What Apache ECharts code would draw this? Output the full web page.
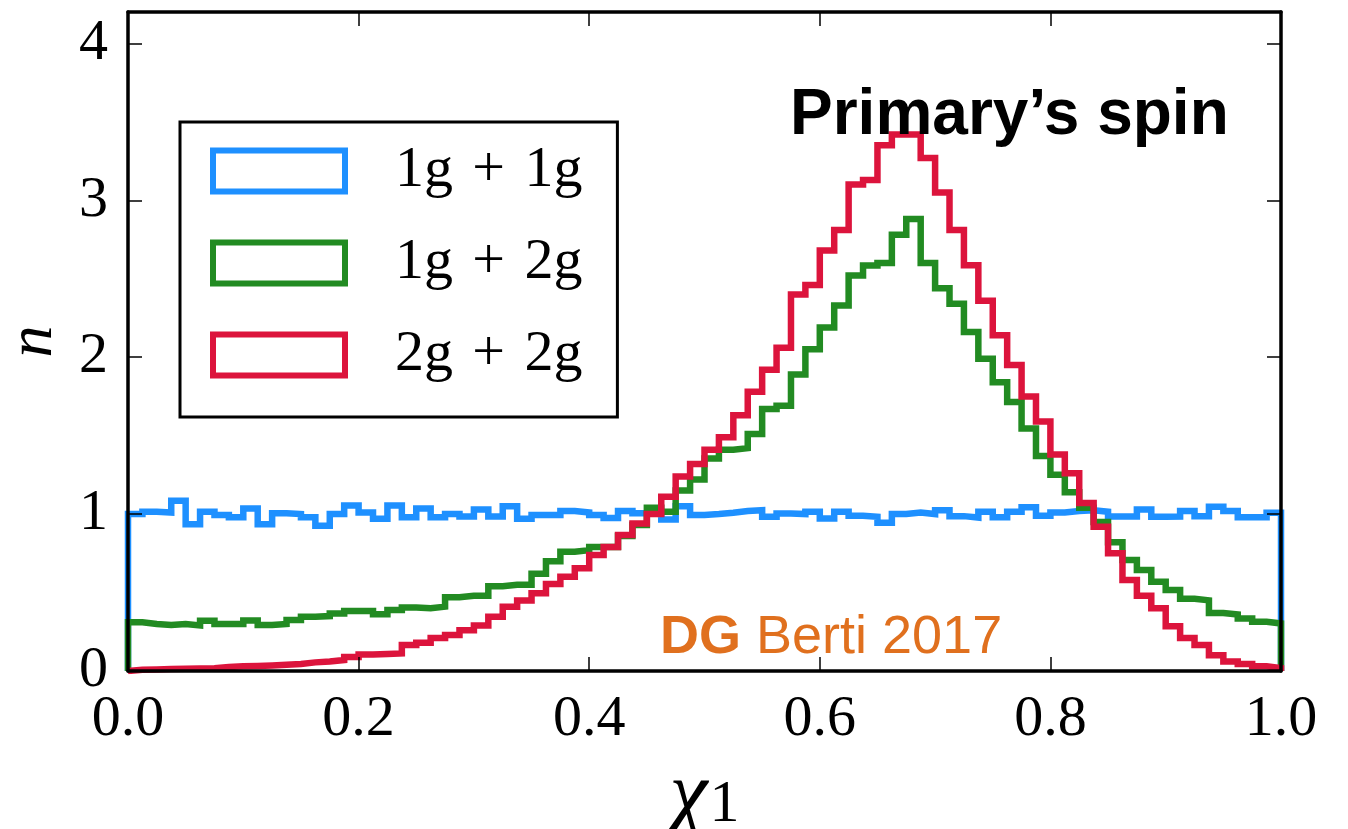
<!DOCTYPE html>
<html><head><meta charset="utf-8">
<script src="https://cdn.jsdelivr.net/npm/echarts@6/dist/echarts.min.js"></script>
<style>html,body{margin:0;padding:0;background:#fff}#c{width:1348px;height:829px}</style>
</head><body><div id="c"></div>
<script>
const seriesNames = ['1g\u2004+\u20041g', '1g\u2004+\u20042g', '2g\u2004+\u20042g'];
const xTickLabels = ['0.0', '0.2', '0.4', '0.6', '0.8', '1.0'];
const yTickLabels = ['0', '1', '2', '3', '4'];
const titleText = 'Primary\u2019s spin';
const creditBold = 'DG';
const creditRest = ' Berti 2017';

// histogram heights, 80 equal bins on [0, 1]
const blue = [1.00,1.015,1.01,1.085,0.935,1.015,0.995,0.98,1.035,0.935,
  1.005,1.0,0.98,0.925,1.0,1.055,1.01,0.97,1.055,0.98,
  1.035,0.98,1.0,0.985,1.03,0.985,1.05,0.97,0.995,0.995,
  1.02,1.01,0.995,0.975,1.02,1.005,1.0,0.965,1.05,0.995,
  1.0,1.008,1.02,1.025,0.983,1.004,1.0,1.015,0.972,1.015,
  0.99,0.983,0.945,1.0,1.01,1.0,1.025,0.987,0.978,1.015,
  0.98,1.015,1.043,0.99,1.01,1.02,1.025,1.015,0.985,0.985,
  1.03,0.983,0.985,1.02,0.987,1.047,1.02,0.98,0.98,1.008];
const green = [0.31,0.30,0.293,0.30,0.29,0.32,0.30,0.30,0.322,0.293,
  0.30,0.325,0.345,0.35,0.367,0.382,0.382,0.361,0.388,0.405,
  0.40,0.41,0.47,0.48,0.48,0.54,0.55,0.55,0.62,0.70,
  0.76,0.77,0.79,0.79,0.86,0.93,1.04,1.015,1.15,1.22,
  1.355,1.41,1.42,1.51,1.67,1.69,1.89,2.05,2.19,2.33,
  2.52,2.585,2.60,2.78,2.88,2.60,2.44,2.34,2.16,1.99,
  1.84,1.715,1.545,1.37,1.25,1.14,1.04,0.95,0.82,0.707,
  0.643,0.569,0.516,0.46,0.45,0.37,0.36,0.335,0.314,0.303];
const red = [0.008,0.01,0.012,0.014,0.016,0.018,0.025,0.03,0.032,0.035,
  0.04,0.045,0.055,0.06,0.07,0.09,0.105,0.108,0.112,0.165,
  0.18,0.21,0.23,0.26,0.29,0.345,0.41,0.45,0.495,0.555,
  0.60,0.655,0.74,0.79,0.866,0.94,1.0,1.11,1.24,1.32,
  1.41,1.49,1.63,1.78,1.92,2.06,2.40,2.46,2.68,2.81,
  3.10,3.13,3.35,3.42,3.42,3.27,3.05,2.81,2.586,2.36,
  2.14,1.95,1.75,1.59,1.38,1.26,1.07,0.92,0.75,0.58,
  0.48,0.40,0.285,0.21,0.165,0.10,0.06,0.045,0.03,0.018];

const colors = ['#1E90FF', '#228B22', '#DC143C'];
const values = [blue, green, red];

function stepPoints(vals) {
  const n = vals.length;
  const pts = [[0, 0]];
  for (let i = 0; i < n; i++) pts.push([i / n, vals[i]]);
  pts.push([1, vals[n - 1]]);
  pts.push([1, 0]);
  return pts;
}

const serif = 'Liberation Serif';
const tickStyle = { inside: true, length: 14, lineStyle: { color: '#000', width: 1.5 } };
const axisLine = { show: true, onZero: false, lineStyle: { color: '#000', width: 3.5 } };

const chart = echarts.init(document.getElementById('c'), null, { renderer: 'canvas' });
chart.setOption({
  animation: false,
  backgroundColor: '#fff',
  grid: { left: 128, right: 67, top: 12, bottom: 158, show: false, containLabel: false, outerBoundsMode: 'none' },
  xAxis: [{
    type: 'value', min: 0, max: 1, interval: 0.2, position: 'bottom', z: 5,
    axisLine: axisLine, axisTick: tickStyle, splitLine: { show: false },
    axisLabel: { margin: 20, fontFamily: serif, fontSize: 58, color: '#000',
      formatter: v => xTickLabels[Math.round(v / 0.2)] },
    name: '{c|\u03C7}{s|1}', nameLocation: 'middle', nameGap: 78,
    nameTextStyle: { rich: {
      c: { fontFamily: serif, fontStyle: 'italic', fontSize: 86, color: '#000' },
      s: { fontFamily: serif, fontSize: 60, color: '#000', padding: [16, 0, 0, 2] } } }
  }, {
    type: 'value', min: 0, max: 1, interval: 0.2, position: 'top', z: 5,
    axisLine: axisLine, axisTick: tickStyle, axisLabel: { show: false }, splitLine: { show: false }
  }],
  yAxis: [{
    type: 'value', min: 0, max: 4.2, interval: 1, position: 'left', z: 5,
    axisLine: axisLine, axisTick: tickStyle, splitLine: { show: false },
    axisLabel: { margin: 20, fontFamily: serif, fontSize: 58, color: '#000',
      formatter: v => (Math.abs(v - Math.round(v)) < 1e-6 ? yTickLabels[Math.round(v)] : '') },
    name: 'n', nameLocation: 'middle', nameGap: 62, nameRotate: 90,
    nameTextStyle: { fontFamily: serif, fontStyle: 'italic', fontSize: 64, color: '#000', padding: [0, 0, 0, 0] }
  }, {
    type: 'value', min: 0, max: 4.2, interval: 1, position: 'right', z: 5,
    axisLine: axisLine, axisTick: tickStyle, axisLabel: { show: false }, splitLine: { show: false }
  }],
  legend: {
    orient: 'vertical', left: 180, top: 122,
    padding: [20, 35, 33, 30],
    itemWidth: 132, itemHeight: 41, itemGap: 34,
    icon: 'rect', selectedMode: false,
    backgroundColor: '#fff', borderColor: '#000', borderWidth: 3, borderRadius: 0,
    textStyle: { fontFamily: serif, fontSize: 58, color: '#000', padding: [0, 0, 0, 45] },
    data: seriesNames.map((n, i) => ({ name: n, itemStyle: { color: '#fff', borderColor: colors[i], borderWidth: 6 } }))
  },
  graphic: [{
    type: 'text', left: 790, top: 84, z: 10,
    style: { text: titleText, fontFamily: 'Liberation Sans', fontWeight: 'bold', fontSize: 64, fill: '#000' }
  }, {
    type: 'text', left: 660, top: 611, z: 10,
    style: { text: '{b|' + creditBold + '}{r|' + creditRest + '}',
      rich: { b: { fontFamily: 'Liberation Sans', fontWeight: 'bold', fontSize: 54, fill: '#E0701E', color: '#E0701E' },
              r: { fontFamily: 'Liberation Sans', fontSize: 54, fill: '#E0701E', color: '#E0701E' } } }
  }],
  series: values.map((vals, i) => ({
    name: seriesNames[i], type: 'line', step: 'end', showSymbol: false, symbol: 'none',
    data: stepPoints(vals), z: 2 + i,
    lineStyle: { color: colors[i], width: 6.5, join: 'miter' },
    itemStyle: { color: colors[i] }
  }))
});
</script></body></html>
